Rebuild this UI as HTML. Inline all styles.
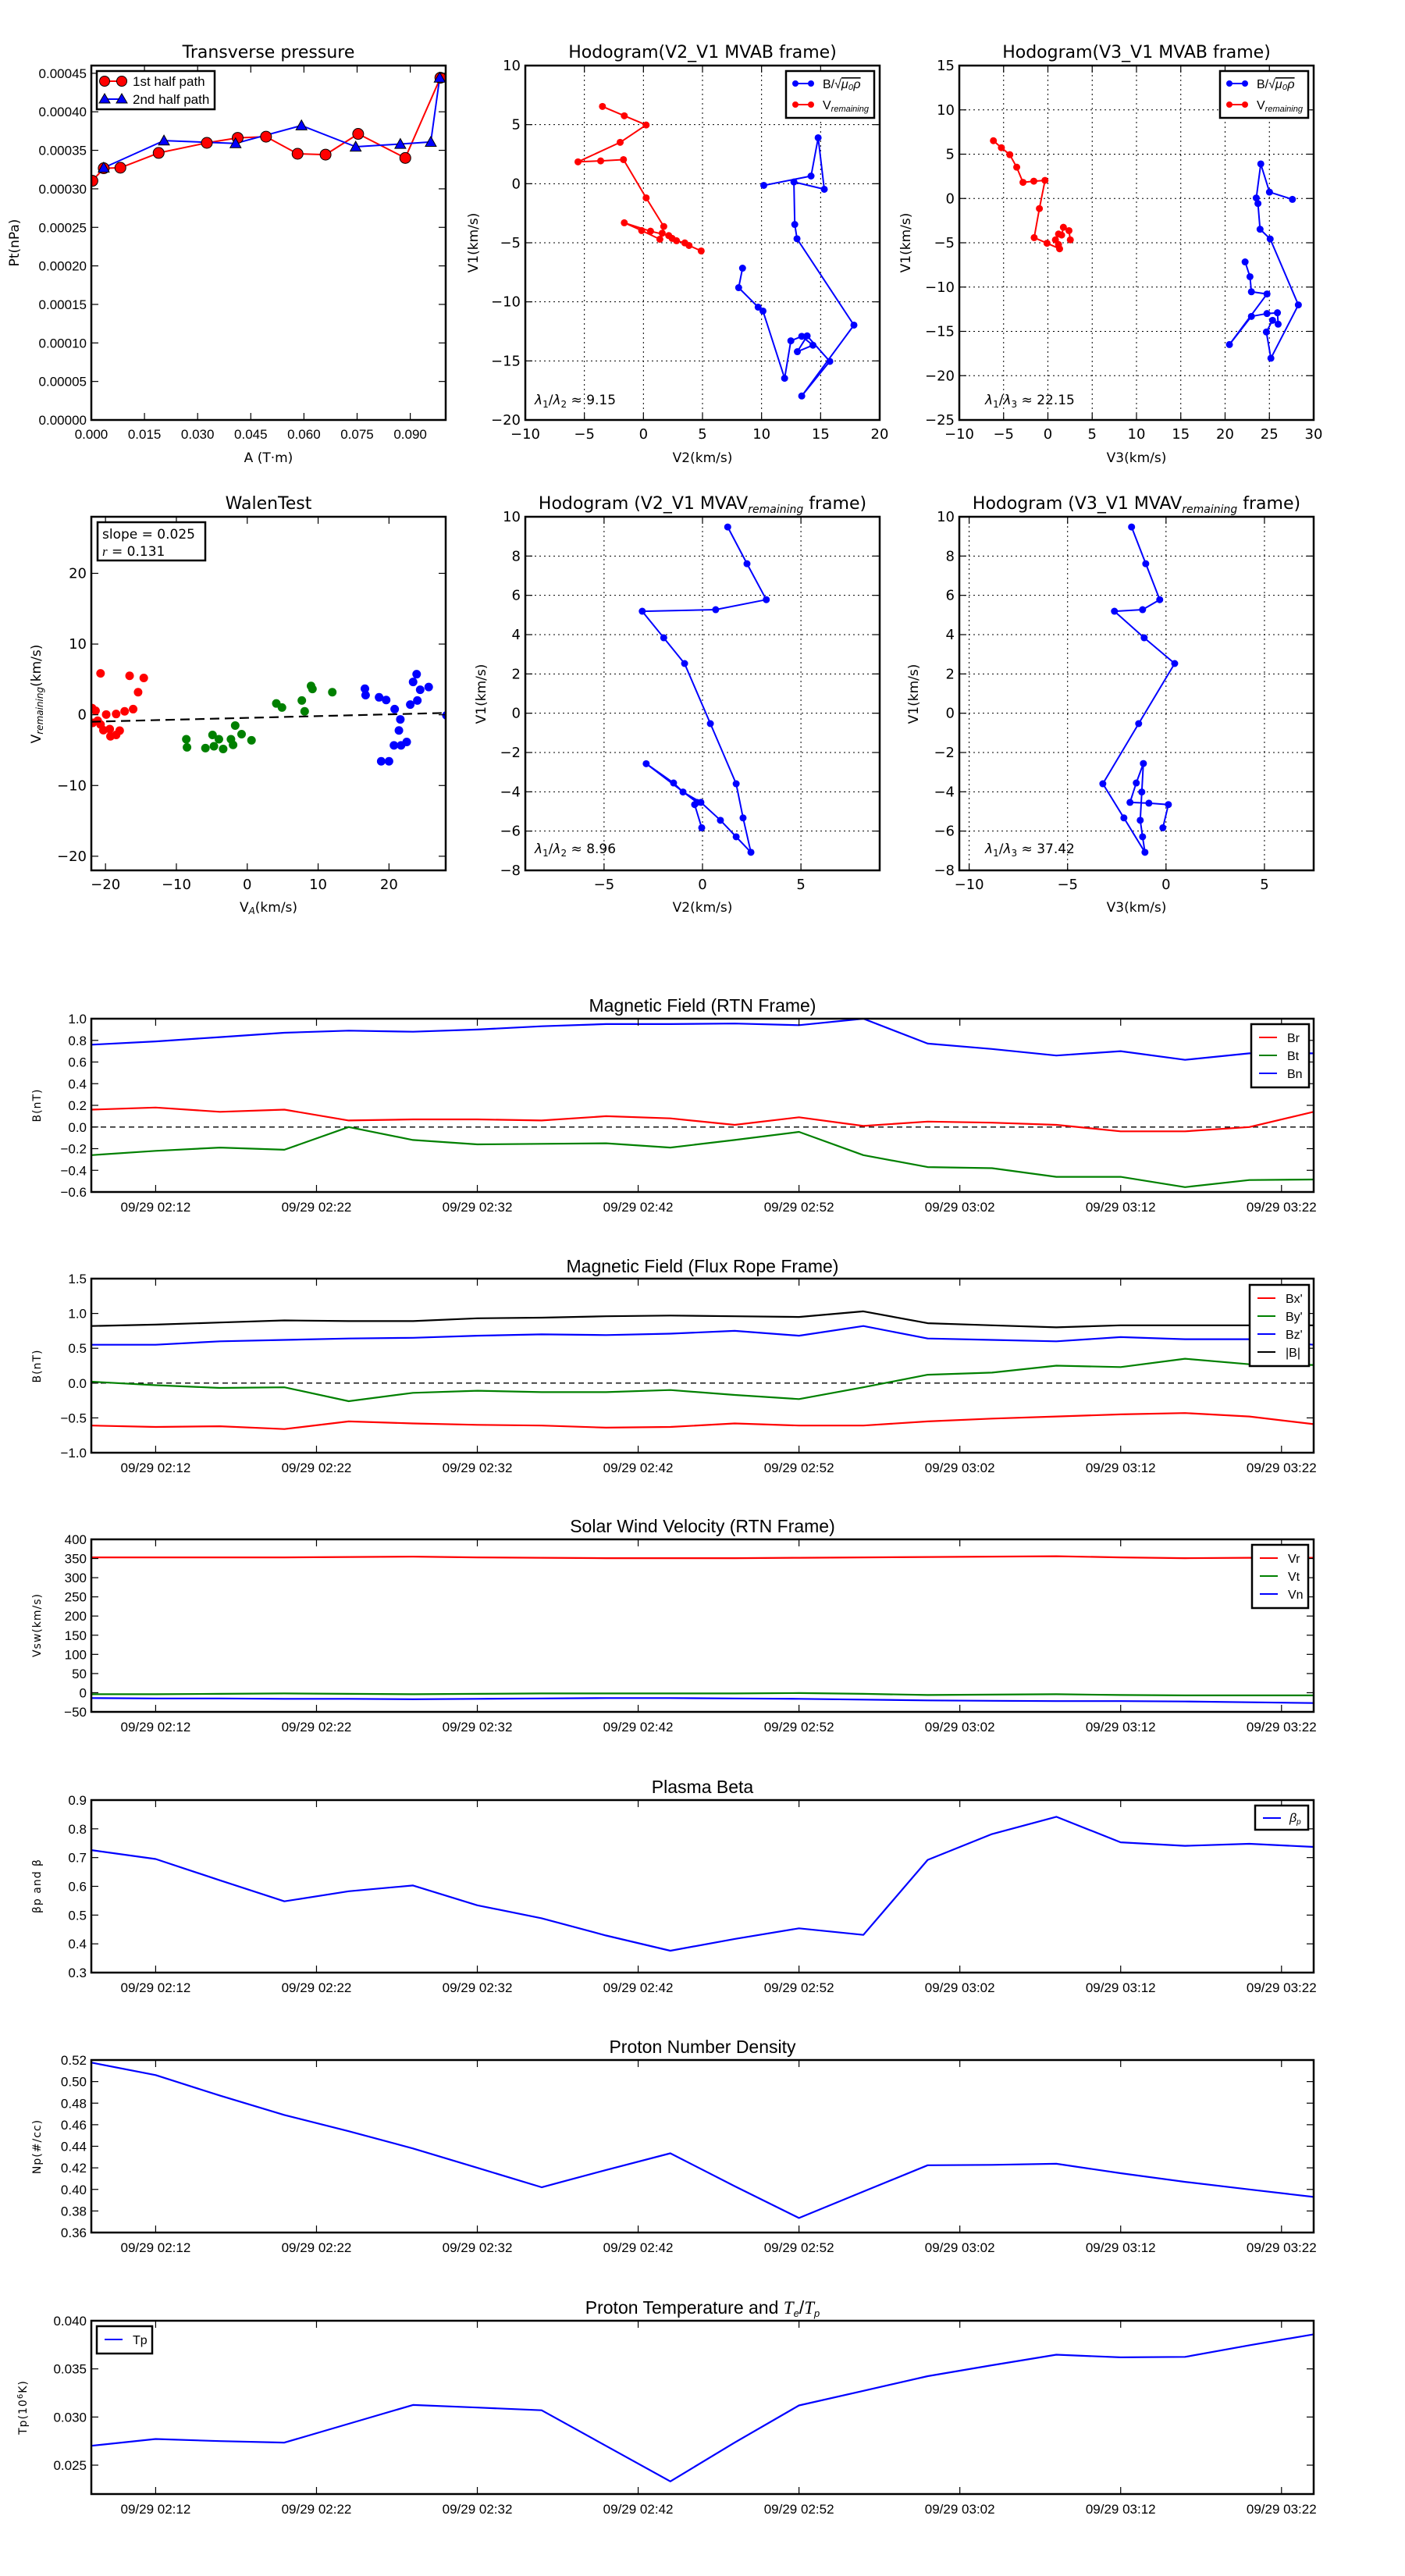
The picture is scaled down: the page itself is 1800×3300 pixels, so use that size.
<!DOCTYPE html>
<html><head><meta charset="utf-8"><title>Flux rope analysis</title>
<style>
html,body{margin:0;padding:0;background:#fff;}
svg{display:block;}
text{fill:#000;}
.tk{font-family:"Liberation Sans",sans-serif;font-size:17px;}
.tkd{font-family:"DejaVu Sans",sans-serif;font-size:18px;}
.ttl{font-family:"DejaVu Sans",sans-serif;font-size:22px;}
.ttl2{font-family:"Liberation Sans",sans-serif;font-size:23px;}
.lab{font-family:"DejaVu Sans",sans-serif;font-size:17px;}
.labs{font-family:"DejaVu Sans",sans-serif;font-size:14px;letter-spacing:1px;}
.leg{font-family:"Liberation Sans",sans-serif;font-size:16px;}
</style></head>
<body>
<svg id="fig" xmlns="http://www.w3.org/2000/svg" width="1800" height="3300" viewBox="0 0 1800 3300"></svg>
<script>
// ---------- DATA ----------
const tpA1 = [0.0003,0.0035,0.0082,0.0190,0.0326,0.0413,0.0493,0.0582,0.0661,0.0753,0.0886,0.0985];
const tpP1 = [0.0003104,0.0003267,0.0003274,0.0003466,0.0003597,0.0003662,0.0003677,0.0003455,0.0003444,0.0003713,0.0003401,0.0004442];
const tpA2 = [0.0035,0.0205,0.0407,0.0593,0.0746,0.0872,0.0958,0.0983];
const tpP2 = [0.0003274,0.0003626,0.000359,0.0003822,0.0003546,0.0003582,0.0003608,0.0004442];
const tpXTicks = [0,0.015,0.030,0.045,0.060,0.075,0.090];
const tpXLabels = ["0.000","0.015","0.030","0.045","0.060","0.075","0.090"];
const tpYTicks = [0,0.00005,0.0001,0.00015,0.0002,0.00025,0.0003,0.00035,0.0004,0.00045];
const tpYLabels = ["0.00000","0.00005","0.00010","0.00015","0.00020","0.00025","0.00030","0.00035","0.00040","0.00045"];
const h1BX = [8.39,8.06,9.71,10.12,11.95,12.48,13.40,14.35,13.03,13.86,15.78,13.40,17.82,13.00,12.81,12.74,15.31,14.79,14.19,10.19];
const h1BY = [-7.15,-8.80,-10.45,-10.78,-16.47,-13.30,-12.92,-13.67,-14.22,-12.88,-15.04,-17.97,-11.97,-4.66,-3.45,0.15,-0.47,3.89,0.65,-0.14];
const h1VX = [-3.47,-1.62,0.23,-1.97,-5.54,-3.62,-1.69,0.23,1.72,1.59,1.39,-0.15,-1.62,0.60,2.14,2.43,2.80,3.50,3.86,4.89];
const h1VY = [6.54,5.75,4.97,3.50,1.85,1.93,2.04,-1.20,-3.62,-4.19,-4.70,-3.97,-3.31,-4.02,-4.39,-4.63,-4.83,-5.01,-5.23,-5.69];
const h2BX = [22.26,22.81,22.97,24.73,20.49,22.97,24.73,25.91,25.99,25.36,24.66,25.17,28.27,25.09,23.95,23.71,23.52,24.03,25.01,27.60];
const h2BY = [-7.16,-8.83,-10.53,-10.78,-16.49,-13.31,-12.99,-12.90,-14.19,-13.75,-15.07,-18.03,-12.01,-4.57,-3.47,-0.57,0.06,3.90,0.72,-0.10];
const h2VX = [-6.15,-5.25,-4.30,-3.52,-2.81,-1.59,-0.33,-0.96,-1.55,-0.10,1.32,1.20,0.85,1.20,1.55,1.75,2.38,2.53];
const h2VY = [6.52,5.73,4.94,3.53,1.82,1.95,2.04,-1.14,-4.42,-5.05,-5.68,-5.20,-4.67,-4.01,-4.13,-3.25,-3.63,-4.67];
const wRX = [-20.7,-16.6,-14.6,-15.4,-16.1,-17.3,-18.5,-19.9,-21.4,-21.9,-21.1,-20.7,-20.3,-19.4,-19.3,-18.5,-18.0,-21.8];
const wRY = [5.86,5.51,5.21,3.19,0.80,0.49,0.11,0.04,0.57,0.95,-0.84,-1.37,-2.17,-2.02,-3.04,-2.85,-2.24,-1.14];
const wGX = [-8.6,-8.5,-5.9,-4.9,-4.7,-4.0,-3.4,-2.3,-2.0,-1.7,-0.8,0.6,4.1,4.9,7.7,8.1,9.0,9.2,12.0];
const wGY = [-3.46,-4.60,-4.71,-2.85,-4.45,-3.46,-4.83,-3.46,-4.26,-1.52,-2.74,-3.61,1.60,1.03,2.02,0.49,4.07,3.65,3.19];
const wBX = [16.6,16.7,18.6,19.6,20.8,21.6,21.4,20.7,21.7,22.5,18.9,20.0,23.0,24.0,23.4,23.9,24.4,25.6,28.1];
const wBY = [3.69,2.78,2.47,2.09,0.80,-0.65,-2.21,-4.33,-4.33,-3.84,-6.58,-6.58,1.44,2.02,4.64,5.74,3.54,3.92,-0.08];
const walenSlope = 0.025;
const walenIntercept = -0.44;
const h3X = [1.28,2.26,3.24,0.67,-3.06,-1.97,-0.91,0.40,1.71,2.06,2.46,1.71,0.91,-0.08,-0.99,-1.47,-2.86,-0.28,-0.40,-0.04];
const h3Y = [9.48,7.61,5.78,5.27,5.19,3.84,2.53,-0.53,-3.59,-5.33,-7.08,-6.29,-5.45,-4.54,-4.01,-3.55,-2.57,-4.54,-4.65,-5.83];
const h4X = [-1.75,-1.03,-0.32,-1.19,-2.62,-1.11,0.44,-1.39,-3.21,-2.14,-1.07,-1.19,-1.31,-1.23,-1.15,-1.51,-1.83,-0.87,0.12,-0.16];
const h4Y = [9.48,7.61,5.78,5.27,5.19,3.84,2.53,-0.53,-3.59,-5.33,-7.08,-6.29,-5.45,-4.01,-2.56,-3.55,-4.54,-4.58,-4.65,-5.83];
const tMin = [0,4,8,12,16,20,24,28,32,36,40,44,48,52,56,60,64,68,72,76];
const timeTicks = [4,14,24,34,44,54,64,74];
const timeLabels = ["09/29 02:12","09/29 02:22","09/29 02:32","09/29 02:42","09/29 02:52","09/29 03:02","09/29 03:12","09/29 03:22"];
const Br = [0.16,0.18,0.14,0.16,0.06,0.07,0.07,0.06,0.10,0.08,0.02,0.09,0.01,0.05,0.04,0.02,-0.04,-0.04,0.0,0.14];
const Bt = [-0.26,-0.22,-0.19,-0.21,0.0,-0.12,-0.16,-0.155,-0.15,-0.19,-0.12,-0.045,-0.26,-0.37,-0.38,-0.46,-0.46,-0.555,-0.49,-0.485];
const Bn = [0.76,0.79,0.83,0.87,0.89,0.88,0.90,0.93,0.95,0.95,0.955,0.94,1.0,0.77,0.72,0.66,0.70,0.62,0.68,0.68];
const Bxp = [-0.61,-0.63,-0.62,-0.66,-0.55,-0.58,-0.60,-0.61,-0.64,-0.63,-0.58,-0.61,-0.61,-0.55,-0.51,-0.48,-0.45,-0.43,-0.48,-0.59];
const Byp = [0.02,-0.03,-0.07,-0.06,-0.26,-0.14,-0.11,-0.13,-0.13,-0.10,-0.17,-0.23,-0.06,0.12,0.15,0.25,0.23,0.35,0.27,0.26];
const Bzp = [0.55,0.55,0.60,0.62,0.64,0.65,0.68,0.70,0.69,0.71,0.75,0.68,0.82,0.64,0.62,0.60,0.66,0.63,0.63,0.55];
const Bmag = [0.82,0.84,0.87,0.90,0.89,0.89,0.93,0.94,0.96,0.97,0.96,0.95,1.03,0.86,0.83,0.80,0.83,0.83,0.83,0.83];
const Vr = [353,353,353,353,354,355,353,352,351,351,351,352,353,354,355,356,353,351,352,352];
const Vt = [-4,-4,-3,-2,-3,-4,-3,-2,-2,-2,-2,-1,-3,-6,-5,-4,-6,-7,-7,-7];
const Vn = [-14,-15,-15,-16,-16,-17,-16,-15,-14,-14,-15,-16,-18,-20,-21,-22,-22,-23,-25,-27];
const betaP = [0.726,0.695,0.621,0.548,0.583,0.603,0.534,0.489,0.429,0.376,0.417,0.454,0.431,0.692,0.782,0.842,0.753,0.741,0.748,0.737];
const Np = [0.5176,0.506,0.487,0.469,0.454,0.438,0.420,0.402,0.418,0.4335,0.403,0.3735,0.398,0.4224,0.4228,0.4238,0.415,0.407,0.400,0.393];
const Tp = [0.02701,0.02772,0.0275,0.02734,0.0293,0.03125,0.03098,0.0307,0.0270,0.02331,0.02734,0.0312,0.03272,0.03424,0.03538,0.03647,0.0362,0.03625,0.03745,0.03859];

// ---------- HELPERS ----------
const NS = "http://www.w3.org/2000/svg";
const fig = document.getElementById('fig');
function mk(parent, tag, attrs, name, inter) {
  const el = document.createElementNS(NS, tag);
  for (const k in attrs) el.setAttribute(k, attrs[k]);
  
  
  parent.appendChild(el);
  return el;
}
function txt(parent, x, y, s, cls, name, anchor, extra) {
  const a = {x: x, y: y, class: cls, 'text-anchor': anchor || 'middle'};
  if (extra) for (const k in extra) a[k] = extra[k];
  const t = mk(parent, 'text', a, name, false);
  t.textContent = s;
  return t;
}
function fmt(v) { return String(v).replace('-', '\u2212'); }
function axes(o) {
  const g = mk(fig, 'g', {}, o.name, false);
  const sx = v => o.x0 + (v - o.xmin) / (o.xmax - o.xmin) * (o.x1 - o.x0);
  const sy = v => o.y1 - (v - o.ymin) / (o.ymax - o.ymin) * (o.y1 - o.y0);
  const clipId = o.name + '-clip';
  const cp = mk(g, 'clipPath', {id: clipId}, o.name + '-clip', false);
  mk(cp, 'rect', {x: o.x0, y: o.y0, width: o.x1 - o.x0, height: o.y1 - o.y0}, 'clip-rect', false);
  const plot = mk(g, 'g', {'clip-path': 'url(#' + clipId + ')'}, 'plot-area', false);
  const tg = mk(g, 'g', {}, 'ticks', false);
  o.xticks.forEach((v, i) => {
    const X = sx(v);
    if (o.grid) mk(plot, 'line', {x1: X, x2: X, y1: o.y0, y2: o.y1, stroke: '#000', 'stroke-width': 1, 'stroke-dasharray': '2,4'}, 'x-grid-line', false);
    mk(tg, 'line', {x1: X, x2: X, y1: o.y1, y2: o.y1 - 9, stroke: '#000', 'stroke-width': 1.2}, 'x-tick', false);
    mk(tg, 'line', {x1: X, x2: X, y1: o.y0, y2: o.y0 + 9, stroke: '#000', 'stroke-width': 1.2}, 'x-tick-top', false);
    txt(tg, X, o.y1 + (o.xlOff || 24), o.xlabels ? o.xlabels[i] : fmt(v), o.tcls, 'x-tick-label');
  });
  o.yticks.forEach((v, i) => {
    const Y = sy(v);
    if (o.grid) mk(plot, 'line', {x1: o.x0, x2: o.x1, y1: Y, y2: Y, stroke: '#000', 'stroke-width': 1, 'stroke-dasharray': '2,4'}, 'y-grid-line', false);
    mk(tg, 'line', {x1: o.x0, x2: o.x0 + 9, y1: Y, y2: Y, stroke: '#000', 'stroke-width': 1.2}, 'y-tick', false);
    mk(tg, 'line', {x1: o.x1, x2: o.x1 - 9, y1: Y, y2: Y, stroke: '#000', 'stroke-width': 1.2}, 'y-tick-right', false);
    txt(tg, o.x0 - 6, Y + 6, o.ylabels ? o.ylabels[i] : fmt(v), o.tcls, 'y-tick-label', 'end');
  });
  return {g: g, plot: plot, sx: sx, sy: sy, o: o};
}
function frame(A) {
  const o = A.o;
  mk(A.g, 'rect', {x: o.x0, y: o.y0, width: o.x1 - o.x0, height: o.y1 - o.y0, fill: 'none', stroke: '#000', 'stroke-width': 2.5}, 'axes-frame', false);
}
function line(A, xs, ys, color, name, w, dash) {
  const d = xs.map((x, i) => (i ? 'L' : 'M') + A.sx(x).toFixed(1) + ',' + A.sy(ys[i]).toFixed(1)).join(' ');
  const a = {d: d, fill: 'none', stroke: color, 'stroke-width': w || 2.2, 'stroke-linejoin': 'round'};
  if (dash) a['stroke-dasharray'] = dash;
  return mk(A.plot, 'path', a, name, false);
}
function dots(A, xs, ys, color, r, name, outline) {
  const g = mk(A.plot, 'g', {}, name, false);
  xs.forEach((x, i) => {
    mk(g, 'circle', {cx: A.sx(x), cy: A.sy(ys[i]), r: r, fill: color, stroke: outline ? '#000' : 'none', 'stroke-width': outline ? 1 : 0}, name + '-point', false);
  });
  return g;
}
function tris(A, xs, ys, color, s, name) {
  const g = mk(A.plot, 'g', {}, name, false);
  xs.forEach((x, i) => {
    const X = A.sx(x), Y = A.sy(ys[i]);
    mk(g, 'polygon', {points: X + ',' + (Y - s) + ' ' + (X - s) + ',' + (Y + s * 0.8) + ' ' + (X + s) + ',' + (Y + s * 0.8), fill: color, stroke: '#000', 'stroke-width': 1}, name + '-point', false);
  });
}
function title(x, y, s, cls, name) { return txt(fig, x, y, s, cls, name); }
function ylab(x, y, s, cls, name) { return txt(fig, x, y, s, cls, name, 'middle', {transform: 'rotate(-90 ' + x + ' ' + y + ')'}); }
function legendBox(x, y, w, h, name) {
  const g = mk(fig, 'g', {}, name, false);
  mk(g, 'rect', {x: x, y: y, width: w, height: h, fill: '#fff', stroke: '#000', 'stroke-width': 2.5}, 'legend-frame', false);
  return g;
}

// ---------- ROW 1 ----------
const A1 = axes({name: 'transverse-pressure-chart', x0: 117, x1: 571, y0: 84, y1: 538, xmin: 0, xmax: 0.1, ymin: 0, ymax: 0.00046,
  xticks: tpXTicks, xlabels: tpXLabels, yticks: tpYTicks, ylabels: tpYLabels, tcls: 'tk'});
line(A1, tpA1, tpP1, 'red', 'first-half-path-line', 2);
line(A1, tpA2, tpP2, 'blue', 'second-half-path-line', 2);
dots(A1, tpA1, tpP1, 'red', 7, 'first-half-path-markers', true);
tris(A1, tpA2, tpP2, 'blue', 7, 'second-half-path-markers');
frame(A1);
title(344, 74, 'Transverse pressure', 'ttl', 'transverse-pressure-title');
ylab(24, 311, 'Pt(nPa)', 'lab', 'y-axis-title');
txt(fig, 344, 592, 'A (T\u00b7m)', 'lab', 'x-axis-title');
{
  const L = legendBox(124, 91, 151, 49, 'legend');
  mk(L, 'line', {x1: 134, x2: 156, y1: 104, y2: 104, stroke: 'red', 'stroke-width': 2}, 'legend-line-1st', false);
  mk(L, 'circle', {cx: 134, cy: 104, r: 6.5, fill: 'red', stroke: '#000'}, 'legend-marker-1st', false);
  mk(L, 'circle', {cx: 156, cy: 104, r: 6.5, fill: 'red', stroke: '#000'}, 'legend-marker-1st', false);
  txt(L, 170, 110, '1st half path', 'tk', 'legend-label-1st', 'start');
  mk(L, 'line', {x1: 134, x2: 156, y1: 127, y2: 127, stroke: 'blue', 'stroke-width': 2}, 'legend-line-2nd', false);
  mk(L, 'polygon', {points: '134,120 127,132 141,132', fill: 'blue', stroke: '#000'}, 'legend-marker-2nd', false);
  mk(L, 'polygon', {points: '156,120 149,132 163,132', fill: 'blue', stroke: '#000'}, 'legend-marker-2nd', false);
  txt(L, 170, 133, '2nd half path', 'tk', 'legend-label-2nd', 'start');
}

function hodoLegend(x, y, name) {
  const L = legendBox(x, y, 113, 60, name);
  mk(L, 'line', {x1: x + 12, x2: x + 32, y1: y + 16, y2: y + 16, stroke: 'blue', 'stroke-width': 2}, 'legend-line-b', false);
  mk(L, 'circle', {cx: x + 12, cy: y + 16, r: 4, fill: 'blue'}, 'legend-marker-b', false);
  mk(L, 'circle', {cx: x + 32, cy: y + 16, r: 4, fill: 'blue'}, 'legend-marker-b', false);
  const t1 = txt(L, x + 47, y + 22, 'B/\u221a', 'leg', 'legend-label-b', 'start');
  const s1 = document.createElementNS(NS, 'tspan'); s1.setAttribute('font-style', 'italic'); s1.setAttribute('text-decoration', 'overline'); s1.textContent = '\u03bc\u2080\u03c1'; t1.appendChild(s1);
  mk(L, 'line', {x1: x + 12, x2: x + 32, y1: y + 43, y2: y + 43, stroke: 'red', 'stroke-width': 2}, 'legend-line-v', false);
  mk(L, 'circle', {cx: x + 12, cy: y + 43, r: 4, fill: 'red'}, 'legend-marker-v', false);
  mk(L, 'circle', {cx: x + 32, cy: y + 43, r: 4, fill: 'red'}, 'legend-marker-v', false);
  const t2 = txt(L, x + 47, y + 49, 'V', 'leg', 'legend-label-v', 'start');
  const s2 = document.createElementNS(NS, 'tspan'); s2.setAttribute('font-style', 'italic'); s2.setAttribute('font-size', '11'); s2.setAttribute('dy', '3'); s2.textContent = 'remaining'; t2.appendChild(s2);
}
function ratio(x, y, sub, val, name) {
  const t = txt(fig, x, y, '', 'lab', name, 'start');
  const parts = [['\u03bb', 'italic', 0], ['1', null, 4], ['/', null, -4], ['\u03bb', 'italic', 0], [sub, null, 4], [' \u2248 ' + val, null, -4]];
  parts.forEach(p => {
    const s = document.createElementNS(NS, 'tspan');
    if (p[1]) s.setAttribute('font-style', p[1]);
    if (p[2]) s.setAttribute('dy', p[2]);
    if (p[2] > 0) s.setAttribute('font-size', '12');
    s.textContent = p[0];
    t.appendChild(s);
  });
}

const A2 = axes({name: 'hodogram-v2-v1-mvab-chart', x0: 673, x1: 1127, y0: 84, y1: 538, xmin: -10, xmax: 20, ymin: -20, ymax: 10,
  xticks: [-10,-5,0,5,10,15,20], yticks: [-20,-15,-10,-5,0,5,10], tcls: 'tkd', grid: true});
line(A2, h1BX, h1BY, 'blue', 'b-hodogram-line', 2);
dots(A2, h1BX, h1BY, 'blue', 4.5, 'b-hodogram-markers');
line(A2, h1VX, h1VY, 'red', 'v-remaining-line', 2);
dots(A2, h1VX, h1VY, 'red', 4.5, 'v-remaining-markers');
frame(A2);
hodoLegend(1007, 91, 'legend');
ratio(685, 518, '2', '9.15', 'eigenvalue-ratio-label');
title(900, 74, 'Hodogram(V2_V1 MVAB frame)', 'ttl', 'hodogram-v2-v1-mvab-title');
ylab(612, 311, 'V1(km/s)', 'lab', 'y-axis-title');
txt(fig, 900, 592, 'V2(km/s)', 'lab', 'x-axis-title');

const A3 = axes({name: 'hodogram-v3-v1-mvab-chart', x0: 1229, x1: 1683, y0: 84, y1: 538, xmin: -10, xmax: 30, ymin: -25, ymax: 15,
  xticks: [-10,-5,0,5,10,15,20,25,30], yticks: [-25,-20,-15,-10,-5,0,5,10,15], tcls: 'tkd', grid: true});
line(A3, h2BX, h2BY, 'blue', 'b-hodogram-line', 2);
dots(A3, h2BX, h2BY, 'blue', 4.5, 'b-hodogram-markers');
line(A3, h2VX, h2VY, 'red', 'v-remaining-line', 2);
dots(A3, h2VX, h2VY, 'red', 4.5, 'v-remaining-markers');
frame(A3);
hodoLegend(1563, 91, 'legend');
ratio(1262, 518, '3', '22.15', 'eigenvalue-ratio-label');
title(1456, 74, 'Hodogram(V3_V1 MVAB frame)', 'ttl', 'hodogram-v3-v1-mvab-title');
ylab(1166, 311, 'V1(km/s)', 'lab', 'y-axis-title');
txt(fig, 1456, 592, 'V3(km/s)', 'lab', 'x-axis-title');

// ---------- ROW 2 ----------
const W = axes({name: 'walen-test-chart', x0: 117, x1: 571, y0: 662, y1: 1115, xmin: -22, xmax: 28, ymin: -22, ymax: 28,
  xticks: [-20,-10,0,10,20], yticks: [-20,-10,0,10,20], tcls: 'tkd'});
dots(W, wRX, wRY, 'red', 5.5, 'walen-points-red');
dots(W, wGX, wGY, 'green', 5.5, 'walen-points-green');
dots(W, wBX, wBY, 'blue', 5.5, 'walen-points-blue');
line(W, [-22, 28], [walenSlope * -22 + walenIntercept, walenSlope * 28 + walenIntercept], '#000', 'walen-fit-line', 2.2, '12,7');
frame(W);
{
  const L = legendBox(125, 669, 138, 49, 'walen-stats-box');
  txt(L, 131, 690, 'slope = 0.025', 'lab', 'slope-label', 'start');
  const t = txt(L, 131, 712, '', 'lab', 'r-label', 'start');
  const s = document.createElementNS(NS, 'tspan'); s.setAttribute('font-style', 'italic'); s.setAttribute('font-family', 'Liberation Serif'); s.textContent = 'r'; t.appendChild(s);
  const s2 = document.createElementNS(NS, 'tspan'); s2.textContent = ' = 0.131'; t.appendChild(s2);
}
title(344, 652, 'WalenTest', 'ttl', 'walen-test-title');
{
  const t = ylab(52, 889, 'V', 'lab', 'y-axis-title');
  const s = document.createElementNS(NS, 'tspan'); s.setAttribute('font-style', 'italic'); s.setAttribute('font-size', '12'); s.setAttribute('dy', '3'); s.textContent = 'remaining'; t.appendChild(s);
  const s2 = document.createElementNS(NS, 'tspan'); s2.setAttribute('dy', '-3'); s2.textContent = '(km/s)'; t.appendChild(s2);
  const tx = txt(fig, 344, 1168, 'V', 'lab', 'x-axis-title');
  const s3 = document.createElementNS(NS, 'tspan'); s3.setAttribute('font-style', 'italic'); s3.setAttribute('font-size', '12'); s3.setAttribute('dy', '3'); s3.textContent = 'A'; tx.appendChild(s3);
  const s4 = document.createElementNS(NS, 'tspan'); s4.setAttribute('dy', '-3'); s4.textContent = '(km/s)'; tx.appendChild(s4);
}

function subTitle(x, y, pre, name) {
  const t = title(x, y, pre, 'ttl', name);
  const s = document.createElementNS(NS, 'tspan'); s.setAttribute('font-style', 'italic'); s.setAttribute('font-size', '14'); s.setAttribute('dy', '5'); s.textContent = 'remaining'; t.appendChild(s);
  const s2 = document.createElementNS(NS, 'tspan'); s2.setAttribute('dy', '-5'); s2.textContent = ' frame)'; t.appendChild(s2);
}
const A4 = axes({name: 'hodogram-v2-v1-mvav-chart', x0: 673, x1: 1127, y0: 662, y1: 1115, xmin: -9, xmax: 9, ymin: -8, ymax: 10,
  xticks: [-5,0,5], yticks: [-8,-6,-4,-2,0,2,4,6,8,10], tcls: 'tkd', grid: true});
line(A4, h3X, h3Y, 'blue', 'hodogram-line', 2);
dots(A4, h3X, h3Y, 'blue', 4.5, 'hodogram-markers');
frame(A4);
ratio(685, 1093, '2', '8.96', 'eigenvalue-ratio-label');
subTitle(900, 652, 'Hodogram (V2_V1 MVAV', 'hodogram-v2-v1-mvav-title');
ylab(622, 889, 'V1(km/s)', 'lab', 'y-axis-title');
txt(fig, 900, 1168, 'V2(km/s)', 'lab', 'x-axis-title');

const A5 = axes({name: 'hodogram-v3-v1-mvav-chart', x0: 1229, x1: 1683, y0: 662, y1: 1115, xmin: -10.5, xmax: 7.5, ymin: -8, ymax: 10,
  xticks: [-10,-5,0,5], yticks: [-8,-6,-4,-2,0,2,4,6,8,10], tcls: 'tkd', grid: true});
line(A5, h4X, h4Y, 'blue', 'hodogram-line', 2);
dots(A5, h4X, h4Y, 'blue', 4.5, 'hodogram-markers');
frame(A5);
ratio(1262, 1093, '3', '37.42', 'eigenvalue-ratio-label');
subTitle(1456, 652, 'Hodogram (V3_V1 MVAV', 'hodogram-v3-v1-mvav-title');
ylab(1176, 889, 'V1(km/s)', 'lab', 'y-axis-title');
txt(fig, 1456, 1168, 'V3(km/s)', 'lab', 'x-axis-title');

// ---------- TIME SERIES ----------
function ts(name, y0, y1, ymin, ymax, yticks, ylabels) {
  return axes({name: name, x0: 117, x1: 1683, y0: y0, y1: y1, xmin: 0, xmax: 76, ymin: ymin, ymax: ymax,
    xticks: timeTicks, xlabels: timeLabels, yticks: yticks, ylabels: ylabels, tcls: 'tk', xlOff: 25});
}
function tsLegend(x, y, w, items, name) {
  const L = legendBox(x, y, w, 12 + items.length * 23, name);
  items.forEach((it, i) => {
    const yy = y + 17 + i * 23;
    mk(L, 'line', {x1: x + 10, x2: x + 33, y1: yy, y2: yy, stroke: it[1], 'stroke-width': 2}, 'legend-line', false);
    txt(L, x + 46, yy + 6, it[0], 'leg', 'legend-label', 'start');
  });
}
const T1 = ts('magnetic-field-rtn-chart', 1305, 1527, -0.6, 1.0, [-0.6,-0.4,-0.2,0,0.2,0.4,0.6,0.8,1.0], ["\u22120.6","\u22120.4","\u22120.2","0.0","0.2","0.4","0.6","0.8","1.0"]);
line(T1, [0, 76], [0, 0], '#000', 'zero-line', 1.3, '7,5');
line(T1, tMin, Br, 'red', 'br-line');
line(T1, tMin, Bt, 'green', 'bt-line');
line(T1, tMin, Bn, 'blue', 'bn-line');
frame(T1);
tsLegend(1603, 1312, 74, [['Br', 'red'], ['Bt', 'green'], ['Bn', 'blue']], 'legend');
title(900, 1296, 'Magnetic Field (RTN Frame)', 'ttl2', 'magnetic-field-rtn-title');
ylab(52, 1416, 'B(nT)', 'labs', 'y-axis-title');

const T2 = ts('magnetic-field-flux-rope-chart', 1638, 1861, -1.0, 1.5, [-1,-0.5,0,0.5,1,1.5], ["\u22121.0","\u22120.5","0.0","0.5","1.0","1.5"]);
line(T2, [0, 76], [0, 0], '#000', 'zero-line', 1.3, '7,5');
line(T2, tMin, Bxp, 'red', 'bx-line');
line(T2, tMin, Byp, 'green', 'by-line');
line(T2, tMin, Bzp, 'blue', 'bz-line');
line(T2, tMin, Bmag, '#000', 'b-magnitude-line');
frame(T2);
tsLegend(1601, 1646, 76, [["Bx'", 'red'], ["By'", 'green'], ["Bz'", 'blue'], ['|B|', '#000']], 'legend');
title(900, 1630, 'Magnetic Field (Flux Rope Frame)', 'ttl2', 'magnetic-field-flux-rope-title');
ylab(52, 1750, 'B(nT)', 'labs', 'y-axis-title');

const T3 = ts('solar-wind-velocity-chart', 1972, 2193, -50, 400, [-50,0,50,100,150,200,250,300,350,400], ["\u221250","0","50","100","150","200","250","300","350","400"]);
line(T3, tMin, Vr, 'red', 'vr-line');
line(T3, tMin, Vt, 'green', 'vt-line');
line(T3, tMin, Vn, 'blue', 'vn-line');
frame(T3);
tsLegend(1604, 1979, 72, [['Vr', 'red'], ['Vt', 'green'], ['Vn', 'blue']], 'legend');
title(900, 1963, 'Solar Wind Velocity (RTN Frame)', 'ttl2', 'solar-wind-velocity-title');
ylab(52, 2082, 'Vsw(km/s)', 'labs', 'y-axis-title');

const T4 = ts('plasma-beta-chart', 2306, 2527, 0.3, 0.9, [0.3,0.4,0.5,0.6,0.7,0.8,0.9], ["0.3","0.4","0.5","0.6","0.7","0.8","0.9"]);
line(T4, tMin, betaP, 'blue', 'beta-p-line');
frame(T4);
{
  const L = legendBox(1608, 2313, 68, 31, 'legend');
  mk(L, 'line', {x1: 1618, x2: 1641, y1: 2329, y2: 2329, stroke: 'blue', 'stroke-width': 2}, 'legend-line', false);
  const t = txt(L, 1652, 2334, '\u03b2', 'leg', 'legend-label', 'start', {'font-style': 'italic'});
  const s = document.createElementNS(NS, 'tspan'); s.setAttribute('font-size', '10'); s.setAttribute('dy', '3'); s.textContent = 'p'; t.appendChild(s);
}
title(900, 2297, 'Plasma Beta', 'ttl2', 'plasma-beta-title');
ylab(52, 2416, '\u03b2p and \u03b2', 'labs', 'y-axis-title');

const T5 = ts('proton-density-chart', 2639, 2860, 0.36, 0.52, [0.36,0.38,0.40,0.42,0.44,0.46,0.48,0.50,0.52], ["0.36","0.38","0.40","0.42","0.44","0.46","0.48","0.50","0.52"]);
line(T5, tMin, Np, 'blue', 'np-line');
frame(T5);
title(900, 2630, 'Proton Number Density', 'ttl2', 'proton-density-title');
ylab(52, 2750, 'Np(#/cc)', 'labs', 'y-axis-title');

const T6 = ts('proton-temperature-chart', 2973, 3195, 0.022, 0.040, [0.025,0.030,0.035,0.040], ["0.025","0.030","0.035","0.040"]);
line(T6, tMin, Tp, 'blue', 'tp-line');
frame(T6);
tsLegend(124, 2980, 71, [['Tp', 'blue']], 'legend');
{
  const t = title(900, 2964, 'Proton Temperature and ', 'ttl2', 'proton-temperature-title');
  const s = document.createElementNS(NS, 'tspan'); s.setAttribute('font-style', 'italic'); s.setAttribute('font-family', 'Liberation Serif'); s.textContent = 'T'; t.appendChild(s);
  const s1 = document.createElementNS(NS, 'tspan'); s1.setAttribute('font-size', '13'); s1.setAttribute('dy', '4'); s1.setAttribute('font-style', 'italic'); s1.textContent = 'e'; t.appendChild(s1);
  const s2 = document.createElementNS(NS, 'tspan'); s2.setAttribute('dy', '-4'); s2.textContent = '/'; t.appendChild(s2);
  const s3 = document.createElementNS(NS, 'tspan'); s3.setAttribute('font-style', 'italic'); s3.setAttribute('font-family', 'Liberation Serif'); s3.textContent = 'T'; t.appendChild(s3);
  const s4 = document.createElementNS(NS, 'tspan'); s4.setAttribute('font-size', '13'); s4.setAttribute('dy', '4'); s4.setAttribute('font-style', 'italic'); s4.textContent = 'p'; t.appendChild(s4);
}
{
  const t = ylab(34, 3084, 'Tp(10', 'labs', 'y-axis-title');
  const s = document.createElementNS(NS, 'tspan'); s.setAttribute('font-size', '10'); s.setAttribute('dy', '-5'); s.textContent = '6'; t.appendChild(s);
  const s2 = document.createElementNS(NS, 'tspan'); s2.setAttribute('dy', '5'); s2.textContent = 'K)'; t.appendChild(s2);
}
</script>
</body></html>
